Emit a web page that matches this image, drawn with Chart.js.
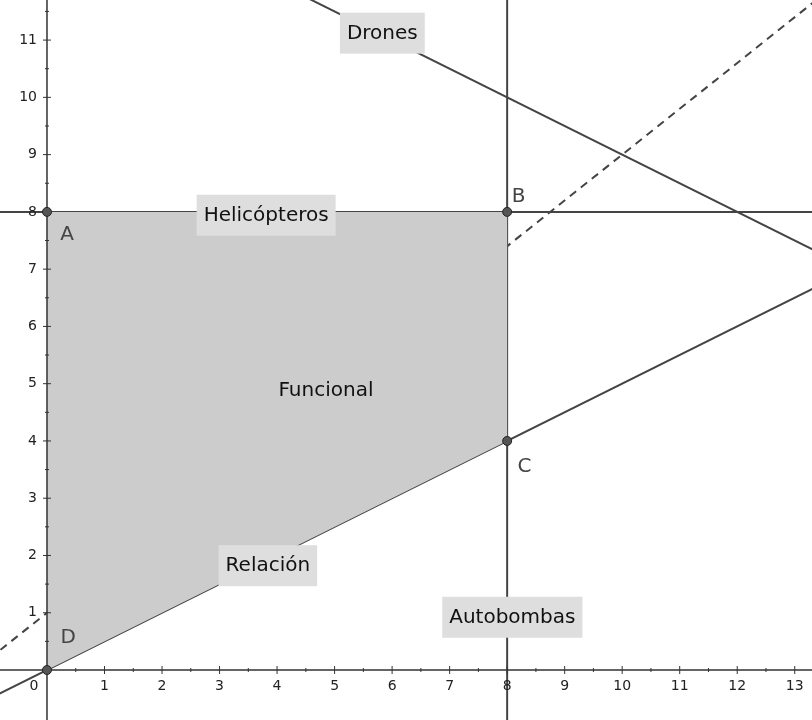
<!DOCTYPE html>
<html>
<head>
<meta charset="utf-8">
<script src="https://cdn.jsdelivr.net/npm/chart.js@4"></script>
<style>
  body { margin: 0; background: #fff; }
  #wrap { width: 812px; height: 720px; }
</style>
</head>
<body>
<div id="wrap"><canvas id="c"></canvas></div>
<script>
const xTicks = [0, 1, 2, 3, 4, 5, 6, 7, 8, 9, 10, 11, 12, 13];
const yTicks = [1, 2, 3, 4, 5, 6, 7, 8, 9, 10, 11];

const drones = [{ x: -1, y: 14.5 }, { x: 14, y: 7 }];
const relacion = [{ x: -1, y: -0.5 }, { x: 14, y: 7 }];
const funcional = [{ x: -1, y: 0.2 }, { x: 14, y: 12.2 }];
const helicopteros = [{ x: -1, y: 8 }, { x: 14, y: 8 }];
const autobombas = [{ x: 8, y: -1 }, { x: 8, y: 12 }];
const region = [{ x: 0, y: 8 }, { x: 8, y: 8 }, { x: 8, y: 4 }, { x: 0, y: 0 }, { x: 0, y: 8 }];
const vertices = [{ x: 0, y: 8 }, { x: 8, y: 8 }, { x: 8, y: 4 }, { x: 0, y: 0 }];

const pointNames = [
  { t: "A", x: 0.35, y: 7.6 },
  { t: "B", x: 8.2, y: 8.27 },
  { t: "C", x: 8.3, y: 3.55 },
  { t: "D", x: 0.37, y: 0.57 },
];
const boxLabels = [
  { t: "Drones", x: 5.83, y: 11.13, box: true },
  { t: "Helicópteros", x: 3.81, y: 7.95, box: true },
  { t: "Funcional", x: 4.85, y: 4.89, box: false },
  { t: "Relación", x: 3.84, y: 1.83, box: true },
  { t: "Autobombas", x: 8.09, y: 0.93, box: true },
];

const lineColor = "#444444";
function seg(data, dash) {
  return { data, showLine: true, borderColor: lineColor, borderWidth: 2, pointRadius: 0,
           borderDash: dash || [], fill: false };
}

const overlay = {
  id: "overlay",
  afterDatasetsDraw(chart) {
    const { ctx, scales: { x, y } } = chart;
    const x0 = x.getPixelForValue(0), y0 = y.getPixelForValue(0);
    ctx.save();
    ctx.strokeStyle = "#333";
    ctx.lineWidth = 1.5;
    ctx.beginPath();
    ctx.moveTo(0, y0); ctx.lineTo(chart.width, y0);
    ctx.moveTo(x0, 0); ctx.lineTo(x0, chart.height);
    ctx.stroke();
    ctx.lineWidth = 1;
    ctx.font = "14px 'DejaVu Sans', sans-serif";
    ctx.fillStyle = "#222";
    ctx.textAlign = "center"; ctx.textBaseline = "top";
    xTicks.forEach(v => {
      const px = x.getPixelForValue(v);
      ctx.beginPath();
      ctx.moveTo(px, y0 - 4); ctx.lineTo(px, y0 + 4);
      ctx.moveTo(x.getPixelForValue(v + 0.5), y0 - 2); ctx.lineTo(x.getPixelForValue(v + 0.5), y0 + 2);
      ctx.stroke();
      ctx.fillText(String(v), v === 0 ? px - 13 : px, y0 + 9);
    });
    ctx.textAlign = "right"; ctx.textBaseline = "middle";
    [0].concat(yTicks).forEach(v => {
      const py = y.getPixelForValue(v);
      ctx.beginPath();
      if (v) { ctx.moveTo(x0 - 4, py); ctx.lineTo(x0 + 4, py); }
      const ph = y.getPixelForValue(v + 0.5);
      ctx.moveTo(x0 - 2, ph); ctx.lineTo(x0 + 2, ph);
      ctx.stroke();
      if (v) ctx.fillText(String(v), x0 - 10, py);
    });
    vertices.forEach(p => {
      ctx.beginPath();
      ctx.arc(x.getPixelForValue(p.x), y.getPixelForValue(p.y), 4.5, 0, Math.PI * 2);
      ctx.fillStyle = "#555"; ctx.fill();
      ctx.strokeStyle = "#222"; ctx.stroke();
    });
    ctx.font = "20px 'DejaVu Sans', sans-serif";
    ctx.textAlign = "center"; ctx.textBaseline = "middle";
    pointNames.forEach(p => {
      ctx.fillStyle = "#444";
      ctx.fillText(p.t, x.getPixelForValue(p.x), y.getPixelForValue(p.y));
    });
    boxLabels.forEach(p => {
      const px = x.getPixelForValue(p.x), py = y.getPixelForValue(p.y);
      const w = ctx.measureText(p.t).width + 14;
      if (p.box) { ctx.fillStyle = "#dedede"; ctx.fillRect(px - w / 2, py - 20, w, 41); }
      ctx.fillStyle = "#111";
      ctx.fillText(p.t, px, py + 1);
    });
    ctx.restore();
  }
};

new Chart(document.getElementById("c"), {
  type: "scatter",
  data: {
    datasets: [
      { data: region, showLine: true, borderWidth: 0, pointRadius: 0,
        backgroundColor: "#cccccc", fill: "shape" },
      seg(drones), seg(relacion), seg(funcional, [8, 6]), seg(helicopteros), seg(autobombas),
    ]
  },
  options: {
    responsive: true, maintainAspectRatio: false, animation: false,
    layout: { padding: 0 },
    plugins: { legend: { display: false }, tooltip: { enabled: false } },
    scales: {
      x: { type: "linear", display: false, min: -0.817, max: 13.3 },
      y: { type: "linear", display: false, min: -0.873, max: 11.7 },
    }
  },
  plugins: [overlay]
});
</script>
</body>
</html>
